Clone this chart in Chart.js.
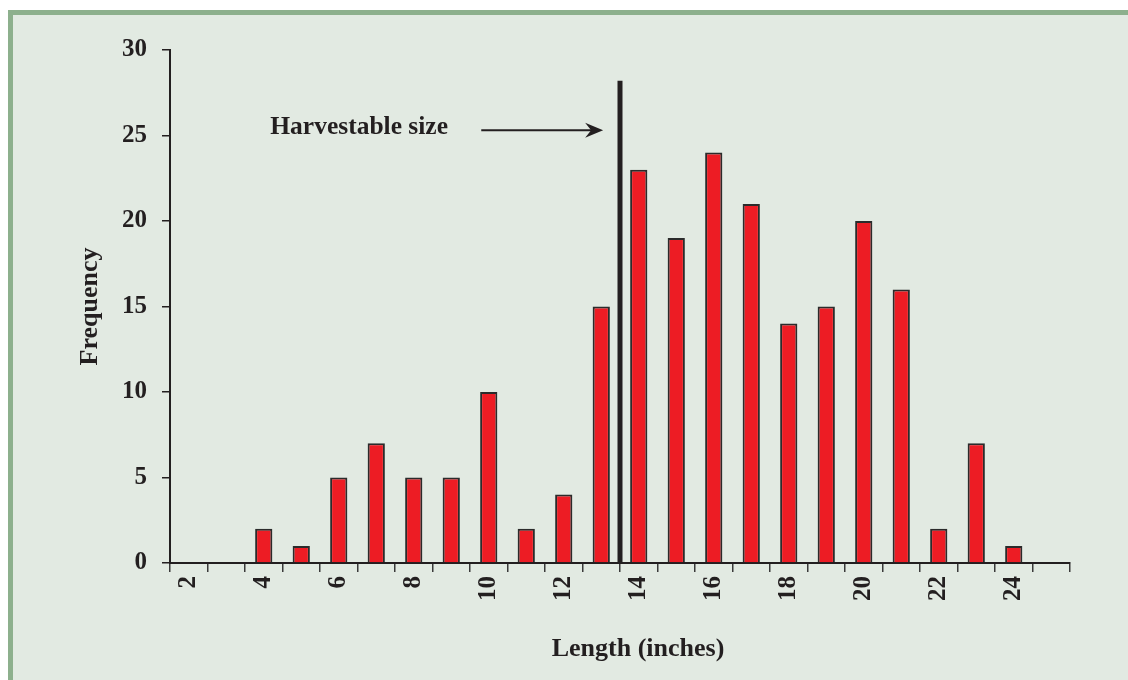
<!DOCTYPE html>
<html>
<head>
<meta charset="utf-8">
<script src="https://cdn.jsdelivr.net/npm/chart.js@4.4.0/dist/chart.umd.min.js"></script>
<style>
  html, body { margin: 0; padding: 0; background: #ffffff; }
  #frame {
    position: absolute; left: 8px; top: 10px; width: 1120px; height: 670px;
    background: #e2eae2; border-left: 5px solid #8db08d; border-top: 5px solid #8db08d;
  }
  #wrap { position: absolute; left: 0; top: 0; width: 1128px; height: 680px; }
</style>
</head>
<body>
<div id="frame"></div>
<div id="wrap"><canvas id="chartLength"></canvas></div>
<script>
"use strict";

// longitudes (pulgadas) — la última categoría queda vacía
var lengths     = ['2','3','4','5','6','7','8','9','10','11','12','13','14','15','16','17','18','19','20','21','22','23','24','25'];
var tickLabels  = ['2','','4','','6','','8','','10','','12','','14','','16','','18','','20','','22','','24',''];
var frequencies = [0, 0, 2, 1, 5, 7, 5, 5, 10, 2, 4, 15, 23, 19, 24, 21, 14, 15, 20, 16, 2, 7, 1, 0];

// anotación "Harvestable size" (en pulgadas / frecuencia)
var harvestLength = 13.5;
var harvestTop    = 28.2;
var arrowFrom     = 9.8;
var arrowTo       = 13.05;
var arrowLevel    = 25.3;
var labelStart    = 4.2;

var INK  = '#231f20';
var FONT = "'Liberation Serif', 'Times New Roman', serif";

function idx(len) { return len - 2; }

var harvestPlugin = {
  id: 'harvest',
  afterDatasetsDraw: function (chart) {
    var ctx = chart.ctx, x = chart.scales.x, y = chart.scales.y;
    ctx.save();
    // línea vertical
    var lx = x.getPixelForValue(idx(harvestLength));
    ctx.strokeStyle = INK;
    ctx.lineWidth = 5;
    ctx.beginPath();
    ctx.moveTo(lx, y.getPixelForValue(0));
    ctx.lineTo(lx, y.getPixelForValue(harvestTop));
    ctx.stroke();

    // flecha
    var ay = y.getPixelForValue(arrowLevel);
    var ax0 = x.getPixelForValue(idx(arrowFrom));
    var ax1 = x.getPixelForValue(idx(arrowTo));
    ctx.lineWidth = 2;
    ctx.beginPath();
    ctx.moveTo(ax0, ay);
    ctx.lineTo(ax1 - 8, ay);
    ctx.stroke();
    ctx.fillStyle = INK;
    ctx.beginPath();
    ctx.moveTo(ax1, ay);
    ctx.lineTo(ax1 - 18, ay - 7.5);
    ctx.lineTo(ax1 - 12, ay);
    ctx.lineTo(ax1 - 18, ay + 7.5);
    ctx.closePath();
    ctx.fill();

    // texto
    ctx.font = "bold 25.5px " + FONT;
    ctx.textAlign = 'left';
    ctx.textBaseline = 'middle';
    ctx.fillText('Harvestable size', x.getPixelForValue(idx(labelStart)) - 1, ay - 3);

    // título del eje X (algo desplazado a la derecha, como en el original)
    ctx.font = "bold 26px " + FONT;
    ctx.textAlign = 'center';
    ctx.fillText('Length (inches)', (x.left + x.right) / 2 + 18, x.bottom - 31);
    ctx.restore();
  }
};

new Chart(document.getElementById('chartLength'), {
  type: 'bar',
  data: {
    labels: lengths,
    datasets: [{
      label: 'Frequency',
      data: frequencies,
      backgroundColor: '#ed1c24',
      borderColor: '#2b2b2b',
      borderWidth: 2,
      barPercentage: 0.46,
      categoryPercentage: 1
    }]
  },
  options: {
    responsive: true,
    maintainAspectRatio: false,
    animation: false,
    layout: { padding: { top: 50, right: 58, left: 0, bottom: 0 } },
    plugins: { legend: { display: false }, tooltip: { enabled: false } },
    scales: {
      x: {
        afterFit: function (s) { s.height = 117; },
        grid: { offset: true, drawOnChartArea: false, drawTicks: true, tickLength: 9, color: '#3a3a3a', lineWidth: 1.5 },
        border: { display: true, color: INK, width: 2 },
        ticks: {
          autoSkip: false, minRotation: 90, maxRotation: 90, padding: 4,
          color: INK, font: { family: FONT, size: 25, weight: 'bold' },
          callback: function (v, i) { return tickLabels[i]; }
        },
        title: { display: false }
      },
      y: {
        min: 0, max: 30,
        afterFit: function (s) { s.width = 170; },
        grid: { drawOnChartArea: false, drawTicks: true, tickLength: 8, color: INK, lineWidth: 1.5 },
        border: { display: true, color: INK, width: 2 },
        ticks: {
          stepSize: 5, padding: 15, color: INK,
          font: { family: FONT, size: 25, weight: 'bold' }
        },
        title: {
          display: true, text: 'Frequency', color: INK,
          font: { family: FONT, size: 26, weight: 'bold' },
          padding: { top: 75, bottom: 0 }
        }
      }
    }
  },
  plugins: [harvestPlugin]
});
</script>
</body>
</html>
